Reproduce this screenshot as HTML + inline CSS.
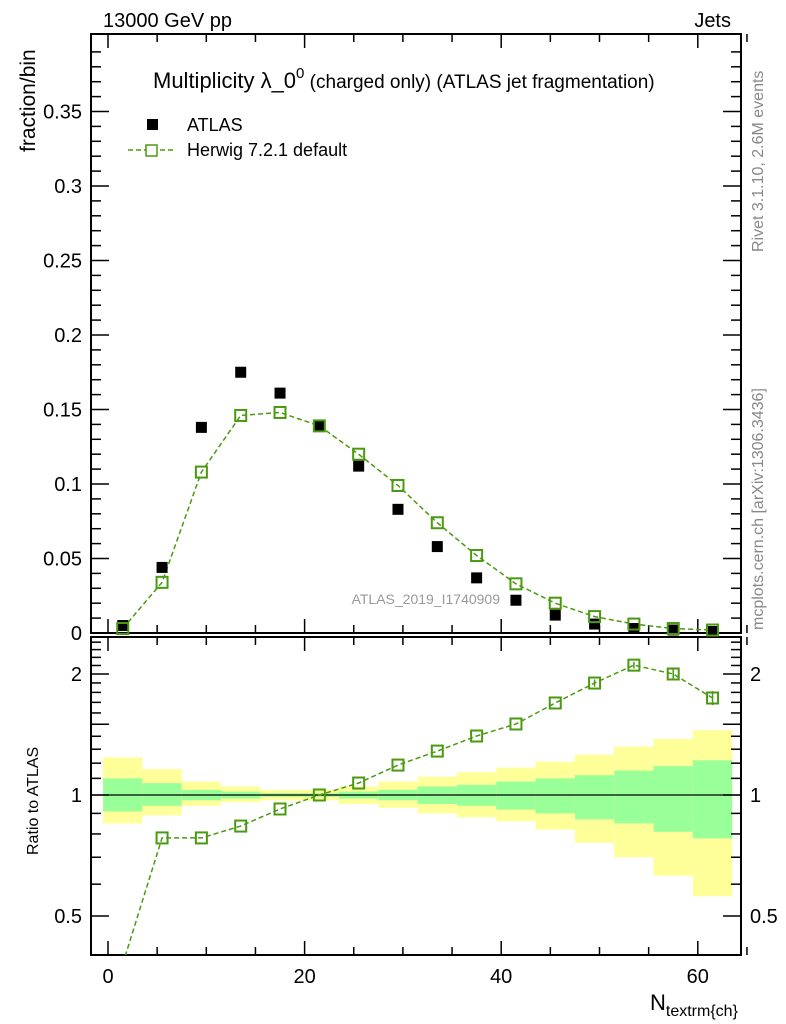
<!DOCTYPE html>
<html><head><meta charset="utf-8"><style>
body{margin:0;background:#fff;}
svg{display:block;font-family:"Liberation Sans",sans-serif;}
</style></head><body>
<svg id="c" width="786" height="1024" xmlns="http://www.w3.org/2000/svg"></svg>
<script>
const binCenters=[1.5,5.5,9.5,13.5,17.5,21.5,25.5,29.5,33.5,37.5,41.5,45.5,49.5,53.5,57.5,61.5];
const atlasVals=[0.005,0.044,0.138,0.175,0.161,0.139,0.112,0.083,0.058,0.037,0.022,0.012,0.006,0.003,0.002,0.001];
const herwigVals=[0.003,0.034,0.108,0.146,0.148,0.139,0.120,0.099,0.074,0.052,0.033,0.020,0.011,0.006,0.003,0.002];
const ratioVals=[0.38,0.782,0.782,0.837,0.923,1.0,1.071,1.187,1.286,1.402,1.502,1.694,1.899,2.104,2.0,1.743];
const ratioErr=[0,0,0,0,0,0,0,0,0,0,0,0,0.04,0.04,0.06,0.07];
const greenHi=[1.10,1.07,1.03,1.02,1.01,1.01,1.02,1.03,1.05,1.06,1.08,1.10,1.12,1.15,1.18,1.22];
const greenLo=[0.91,0.94,0.97,0.98,0.99,0.99,0.98,0.97,0.95,0.94,0.92,0.90,0.87,0.85,0.81,0.78];
const yellowHi=[1.24,1.16,1.08,1.05,1.03,1.03,1.05,1.08,1.11,1.14,1.17,1.21,1.26,1.32,1.38,1.45];
const yellowLo=[0.85,0.89,0.94,0.96,0.97,0.97,0.95,0.93,0.90,0.88,0.86,0.82,0.76,0.70,0.63,0.56];
const xTicks=[0,20,40,60];
const yTicks=[0.05,0.1,0.15,0.2,0.25,0.3,0.35];
const yTickLabels=["0.05","0.1","0.15","0.2","0.25","0.3","0.35"];
const rTicks=[0.5,1,2];
const binWidth=4;

const NS="http://www.w3.org/2000/svg";
const svg=document.getElementById('c');
function el(tag,attrs,parent){const e=document.createElementNS(NS,tag);for(const k in attrs)e.setAttribute(k,attrs[k]);(parent||svg).appendChild(e);return e;}
const L=91,R=741,T=34,B=633,RT=637,RB=955;
const X=v=>108+v*9.83;
const Y=v=>633-v*1490;
const RY=v=>795-121*Math.log2(v);

const bands=el('g',{});


for(let i=0;i<binCenters.length;i++){
  const x0=X(binCenters[i]-binWidth/2),x1=X(binCenters[i]+binWidth/2);
  const y=el('rect',{x:x0,y:RY(yellowHi[i]),width:x1-x0,height:RY(yellowLo[i])-RY(yellowHi[i]),fill:'#ffff99'},bands);
  
  
  const g=el('rect',{x:x0,y:RY(greenHi[i]),width:x1-x0,height:RY(greenLo[i])-RY(greenHi[i]),fill:'#99ff99'},bands);
  
  
}
el('line',{x1:L,x2:R,y1:RY(1),y2:RY(1),stroke:'#000','stroke-width':1.2});

for(const [t,b,n] of [[T,B,'main-frame'],[RT,RB,'ratio-frame']]){
  const f=el('rect',{x:L,y:t,width:R-L,height:b-t,fill:'none',stroke:'#000','stroke-width':2});
  
  
}
for(let v=0;v<=65;v+=5){
  const len=v%20==0?14:8;
  for(const [t,b] of [[T,B],[RT,RB]]){
    el('line',{x1:X(v),x2:X(v),y1:b,y2:b-len,stroke:'#000','stroke-width':1.5});
    el('line',{x1:X(v),x2:X(v),y1:t,y2:t+len,stroke:'#000','stroke-width':1.5});
  }
}
xTicks.forEach(v=>{const t=el('text',{x:X(v),y:983,'font-size':20,'text-anchor':'middle'});t.textContent=v;

});
for(let i=0;i<=39;i++){const v=i*0.01;const len=i%5==0?18:10;const y=Y(v);if(y<T)continue;
 el('line',{x1:L,x2:L+len,y1:y,y2:y,stroke:'#000','stroke-width':1.5});
 el('line',{x1:R,x2:R-len,y1:y,y2:y,stroke:'#000','stroke-width':1.5});}
yTicks.forEach((v,i)=>{const t=el('text',{x:82,y:Y(v)+7,'font-size':20,'text-anchor':'end'});t.textContent=yTickLabels[i];

});
{const t=el('text',{x:82,y:640,'font-size':20,'text-anchor':'end'});t.textContent='0';}
for(let i=4;i<=24;i++){const v=i/10;const maj=(v==0.5||v==1||v==1.5||v==2);const len=maj?18:10;const y=RY(v);if(y<RT||y>RB)continue;
 el('line',{x1:L,x2:L+len,y1:y,y2:y,stroke:'#000','stroke-width':1.5});
 el('line',{x1:R,x2:R-len,y1:y,y2:y,stroke:'#000','stroke-width':1.5});}
rTicks.forEach(v=>{for(const [x,a] of [[82,'end'],[750,'start']]){const t=el('text',{x:x,y:RY(v)+7,'font-size':20,'text-anchor':a});t.textContent=v;

}});

const G='#4a9a10';
const pts=binCenters.map((c,i)=>X(c)+','+Y(herwigVals[i])).join(' ');
const hl=el('polyline',{points:pts,fill:'none',stroke:G,'stroke-width':1.5,'stroke-dasharray':'5,3'});


binCenters.forEach((c,i)=>{
 const a=el('rect',{x:X(c)-5.5,y:Y(atlasVals[i])-5.5,width:11,height:11,fill:'#000'});
 
 
 const h=el('rect',{x:X(c)-5.5,y:Y(herwigVals[i])-5.5,width:11,height:11,fill:'none',stroke:G,'stroke-width':2});
 
 
});
const clip=el('clipPath',{id:'rc'});el('rect',{x:L,y:RT,width:R-L,height:RB-RT},clip);
const rg=el('g',{'clip-path':'url(#rc)'});
const rpts=binCenters.map((c,i)=>X(c)+','+RY(ratioVals[i])).join(' ');
const rl=el('polyline',{points:rpts,fill:'none',stroke:G,'stroke-width':1.5,'stroke-dasharray':'5,3'},rg);


binCenters.forEach((c,i)=>{
 if(ratioErr[i]>0){el('line',{x1:X(c),x2:X(c),y1:RY(ratioVals[i]+ratioErr[i]),y2:RY(ratioVals[i]-ratioErr[i]),stroke:G,'stroke-width':1.5},rg);}
 const h=el('rect',{x:X(c)-5.5,y:RY(ratioVals[i])-5.5,width:11,height:11,fill:'none',stroke:G,'stroke-width':2},rg);
 
 
});
</script>
<svg width="786" height="1024" style="position:absolute;left:0;top:0" xmlns="http://www.w3.org/2000/svg" font-family="Liberation Sans, sans-serif">
<text x="103" y="27" font-size="20">13000 GeV pp</text>
<text x="731" y="27" font-size="20" text-anchor="end">Jets</text>
<text x="153" y="88" font-size="22">Multiplicity λ_0<tspan dy="-10" font-size="15">0</tspan><tspan dy="10" font-size="19"> (charged only) (ATLAS jet fragmentation)</tspan></text>
<g>
<rect x="147" y="119" width="11" height="11" fill="#000"/>
<text x="187" y="131" font-size="18">ATLAS</text>
<line x1="128" y1="150" x2="175" y2="150" stroke="#4a9a10" stroke-width="1.5" stroke-dasharray="5,3"/>
<rect x="146" y="145" width="11" height="11" fill="#fff" stroke="#4a9a10" stroke-width="1.5"/>
<text x="187" y="156" font-size="18">Herwig 7.2.1 default</text>
</g>
<text x="500" y="604" font-size="14" fill="#999" text-anchor="end">ATLAS_2019_I1740909</text>
<text transform="translate(35,152) rotate(-90)" font-size="21">fraction/bin</text>
<text transform="translate(38,855) rotate(-90)" font-size="16">Ratio to ATLAS</text>
<text x="650" y="1010" font-size="22">N<tspan dy="6" font-size="16">textrm{ch}</tspan></text>
<text transform="translate(763,252) rotate(-90)" font-size="16" fill="#888">Rivet 3.1.10,  2.6M events</text>
<text transform="translate(763,630) rotate(-90)" font-size="16" fill="#888">mcplots.cern.ch [arXiv:1306.3436]</text>
</svg>
</body></html>
